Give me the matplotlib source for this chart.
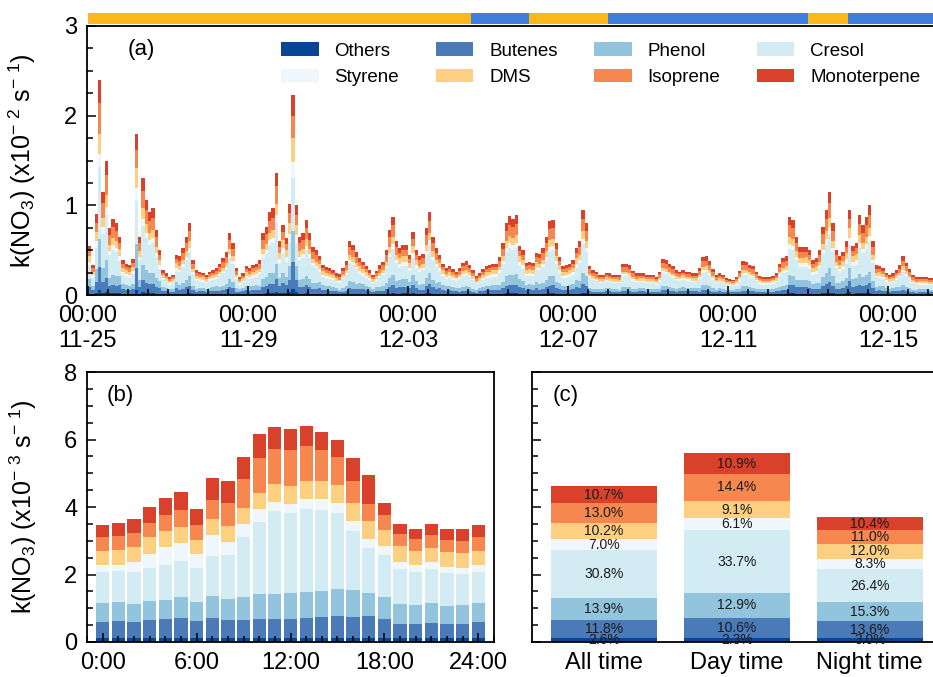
import numpy as np
import matplotlib
matplotlib.use('Agg')
import matplotlib.pyplot as plt
from matplotlib.patches import Patch
from matplotlib.ticker import MultipleLocator

plt.rcParams['font.family'] = ['Liberation Sans', 'DejaVu Sans']
plt.rcParams['mathtext.fontset'] = 'custom'
plt.rcParams['mathtext.rm'] = 'Liberation Sans'
plt.rcParams['mathtext.default'] = 'regular'

species = ['Others', 'Butenes', 'Phenol', 'Cresol', 'Styrene', 'DMS', 'Isoprene', 'Monoterpene']
colors = ['#084594', '#4a7ab7', '#92c4de', '#d3ecf3', '#eff6fc', '#fdd081', '#f6874f', '#d9412b']

# contribution (%) of each species, from panel (c)
all_share = [2.6, 11.8, 13.9, 30.8, 7.0, 10.2, 13.0, 10.7]
day_share = [2.3, 10.6, 12.9, 33.7, 6.1, 9.1, 14.4, 10.9]
night_share = [3.0, 13.6, 15.3, 26.4, 8.3, 12.0, 11.0, 10.4]
period_totals = [4.61, 5.59, 3.70]
period_names = ['All time', 'Day time', 'Night time']

# (a) total k(NO3), x10^-2 s^-1, 2-hourly from 11-25 00:00 (one row per day)
k_total = [
    0.55, 0.33, 0.90, 2.40, 1.15, 1.50, 0.75, 0.85, 0.80, 0.65, 0.39, 0.35,
    0.33, 0.40, 1.80, 0.65, 1.30, 1.06, 0.93, 0.97, 0.72, 0.50, 0.28, 0.24,
    0.20, 0.22, 0.45, 0.43, 0.52, 0.65, 0.80, 0.39, 0.28, 0.26, 0.25, 0.22,
    0.26, 0.28, 0.30, 0.35, 0.41, 0.48, 0.69, 0.58, 0.30, 0.20, 0.24, 0.32,
    0.30, 0.33, 0.35, 0.39, 0.69, 0.76, 0.93, 0.97, 1.36, 0.60, 0.78, 0.64,
    1.02, 2.23, 1.00, 0.65, 0.69, 0.84, 0.69, 0.54, 0.50, 0.44, 0.34, 0.31,
    0.30, 0.28, 0.24, 0.23, 0.30, 0.38, 0.60, 0.56, 0.48, 0.41, 0.37, 0.32,
    0.28, 0.22, 0.27, 0.33, 0.37, 0.50, 0.72, 0.87, 0.60, 0.52, 0.56, 0.56,
    0.45, 0.70, 0.50, 0.44, 0.46, 0.75, 0.93, 0.65, 0.52, 0.45, 0.35, 0.30,
    0.32, 0.29, 0.26, 0.30, 0.36, 0.38, 0.34, 0.28, 0.21, 0.24, 0.29, 0.32,
    0.33, 0.35, 0.35, 0.42, 0.58, 0.80, 0.88, 0.85, 0.89, 0.55, 0.50, 0.36,
    0.37, 0.36, 0.47, 0.46, 0.52, 0.65, 0.82, 0.84, 0.58, 0.42, 0.32, 0.33,
    0.35, 0.39, 0.52, 0.60, 0.95, 0.80, 0.32, 0.28, 0.26, 0.22, 0.22, 0.25,
    0.24, 0.22, 0.22, 0.22, 0.35, 0.35, 0.33, 0.27, 0.24, 0.24, 0.24, 0.22,
    0.22, 0.22, 0.20, 0.26, 0.40, 0.39, 0.35, 0.32, 0.28, 0.26, 0.28, 0.26,
    0.26, 0.24, 0.24, 0.30, 0.42, 0.43, 0.38, 0.29, 0.22, 0.24, 0.22, 0.19,
    0.18, 0.17, 0.20, 0.27, 0.38, 0.37, 0.34, 0.32, 0.26, 0.21, 0.20, 0.20,
    0.20, 0.21, 0.24, 0.35, 0.41, 0.43, 0.87, 0.84, 0.65, 0.53, 0.53, 0.54,
    0.50, 0.39, 0.41, 0.50, 0.76, 0.95, 1.15, 0.80, 0.50, 0.43, 0.48, 0.60,
    0.95, 0.55, 0.58, 0.89, 0.78, 0.87, 1.00, 0.60, 0.33, 0.32, 0.30, 0.25,
    0.22, 0.24, 0.28, 0.33, 0.43, 0.36, 0.29, 0.22, 0.20, 0.20, 0.20, 0.20,
    0.19, 0.19,
]
date_ticks = [0, 4, 8, 12, 16, 20]
date_labels = ['00:00\n11-25', '00:00\n11-29', '00:00\n12-03', '00:00\n12-07', '00:00\n12-11', '00:00\n12-15']

# air mass periods shown in the top strip (days since 11-25 00:00)
period_start = [0, 9.58, 11.03, 13.0, 18.0, 19.0]
period_end = [9.58, 11.03, 13.0, 18.0, 19.0, 21.3]
period_color = ['#fdb71a', '#3f80dc', '#fdb71a', '#3f80dc', '#fdb71a', '#3f80dc']

# (b) diurnal cycle, cumulative tops (x10^-3 s^-1), hour 0..24
hours = list(range(25))
top_others = [0.11, 0.11, 0.11, 0.11, 0.11, 0.11, 0.11, 0.11, 0.11, 0.11, 0.11, 0.11, 0.11,
              0.11, 0.11, 0.11, 0.11, 0.11, 0.11, 0.11, 0.11, 0.11, 0.11, 0.11, 0.11]
top_butenes = [0.59, 0.63, 0.59, 0.65, 0.68, 0.71, 0.62, 0.71, 0.65, 0.65, 0.68, 0.68, 0.68,
               0.71, 0.74, 0.77, 0.74, 0.77, 0.68, 0.53, 0.53, 0.56, 0.53, 0.53, 0.59]
top_phenol = [1.16, 1.19, 1.12, 1.21, 1.24, 1.33, 1.18, 1.36, 1.27, 1.33, 1.42, 1.42, 1.45,
              1.48, 1.51, 1.57, 1.54, 1.45, 1.33, 1.12, 1.09, 1.15, 1.07, 1.09, 1.16]
top_cresol = [2.08, 2.11, 2.08, 2.19, 2.28, 2.40, 2.19, 2.54, 2.57, 3.11, 3.55, 3.88, 3.82,
              3.93, 3.91, 3.82, 3.28, 2.78, 2.57, 2.16, 2.07, 2.16, 2.04, 2.01, 2.08]
top_styrene = [2.28, 2.28, 2.37, 2.60, 2.81, 2.93, 2.60, 3.17, 2.96, 3.49, 3.93, 4.14, 4.08,
               4.23, 4.23, 4.11, 3.58, 3.05, 2.84, 2.37, 2.28, 2.37, 2.22, 2.19, 2.28]
top_dms = [2.69, 2.72, 2.81, 3.10, 3.28, 3.40, 3.02, 3.64, 3.43, 3.96, 4.41, 4.67, 4.62,
           4.76, 4.76, 4.64, 4.11, 3.58, 3.31, 2.84, 2.69, 2.78, 2.66, 2.63, 2.69]
top_isoprene = [3.11, 3.14, 3.22, 3.52, 3.76, 3.91, 3.46, 4.20, 4.11, 4.82, 5.44, 5.71, 5.68,
                5.80, 5.68, 5.47, 4.76, 4.08, 3.76, 3.20, 3.05, 3.17, 3.02, 2.99, 3.11]
top_mono = [3.46, 3.52, 3.64, 3.99, 4.26, 4.44, 3.93, 4.85, 4.76, 5.47, 6.15, 6.36, 6.30,
            6.39, 6.21, 5.98, 5.44, 4.94, 4.11, 3.49, 3.34, 3.49, 3.34, 3.34, 3.46]

W, H = 933, 677
fig = plt.figure(figsize=(W / 100, H / 100), dpi=100)


def box(l, t, r, b):
    return [l / W, 1 - b / H, (r - l) / W, (b - t) / H]


ax_top = fig.add_axes(box(87, 13, 938, 24))
ax_a = fig.add_axes(box(87, 26, 938, 295))
ax_b = fig.add_axes(box(87, 372, 494, 642))
ax_c = fig.add_axes(box(532, 372, 938, 642), sharey=ax_b)

tick_fs = 17
lab_fs = 18


def style(ax):
    for s in ax.spines.values():
        s.set_linewidth(1.3)
    ax.tick_params(which='both', direction='in', top=False, right=False, labelsize=tick_fs)
    ax.tick_params(which='major', length=6.5, width=1.1, pad=7)
    ax.tick_params(which='minor', length=4, width=1.1)


# ---- top strip
for s, e, c in zip(period_start, period_end, period_color):
    ax_top.barh(0, e - s, left=s, height=1, color=c, linewidth=0)
ax_top.set_xlim(-0.025, 21.25)
ax_top.set_ylim(-0.5, 0.5)
ax_top.axis('off')

# ---- (a) time series
n = len(k_total)
t = np.arange(n) * 2 / 24
hod = (np.arange(n) * 2) % 24
is_day = (hod >= 6) & (hod <= 16)
share = np.where(is_day[:, None], np.array(day_share) / 100, np.array(night_share) / 100)
parts = np.array(k_total)[:, None] * share
bottom = np.zeros(n)
for i, name in enumerate(species):
    ax_a.bar(t, parts[:, i], width=2 / 24, bottom=bottom, align='edge',
             color=colors[i], linewidth=0)
    bottom += parts[:, i]

style(ax_a)
ax_a.set_xlim(-0.025, 21.25)
ax_a.set_ylim(0, 3)
ax_a.set_yticks([0, 1, 2, 3])
ax_a.yaxis.set_minor_locator(MultipleLocator(0.25))
ax_a.set_xticks(date_ticks)
ax_a.set_xticklabels(date_labels)
ax_a.xaxis.set_minor_locator(MultipleLocator(0.5))
ax_a.set_ylabel(r'k(NO$_3$) (x10$^{-\ 2}$ s$^{-\ 1}$)', fontsize=lab_fs)
ax_a.yaxis.set_label_coords(-0.057, 0.5)
ax_a.text(0.048, 0.914, '(a)', transform=ax_a.transAxes, fontsize=16, va='center')

handles = [Patch(facecolor=c, label=s) for s, c in zip(species, colors)]
order = [0, 4, 1, 5, 2, 6, 3, 7]
ax_a.legend([handles[i] for i in order], [species[i] for i in order], ncol=4,
            loc='upper left', bbox_to_anchor=(0.228, 0.94), frameon=False,
            fontsize=13.5, handlelength=2.0, handleheight=0.75, handletextpad=0.85,
            columnspacing=1.95, labelspacing=0.48, borderpad=0, borderaxespad=0)

# ---- (b) diurnal
tops = np.array([top_others, top_butenes, top_phenol, top_cresol, top_styrene,
                 top_dms, top_isoprene, top_mono])
lows = np.vstack([np.zeros(len(hours)), tops[:-1]])
for i in range(len(species)):
    ax_b.bar(hours, tops[i] - lows[i], bottom=lows[i], width=0.85,
             color=colors[i], linewidth=0, zorder=1)

style(ax_b)
ax_b.set_xlim(-1, 25)
ax_b.set_ylim(0, 8)
ax_b.set_yticks([0, 2, 4, 6, 8])
ax_b.yaxis.set_minor_locator(MultipleLocator(0.5))
ax_b.set_xticks([0, 6, 12, 18, 24])
ax_b.set_xticklabels(['0:00', '6:00', '12:00', '18:00', '24:00'])
ax_b.xaxis.set_minor_locator(MultipleLocator(1))
ax_b.set_ylabel(r'k(NO$_3$) (x10$^{-\ 3}$ s$^{-\ 1}$)', fontsize=lab_fs)
ax_b.yaxis.set_label_coords(-0.118, 0.5)
ax_b.text(0.049, 0.914, '(b)', transform=ax_b.transAxes, fontsize=16, va='center')

# ---- (c) contributions
shares = [all_share, day_share, night_share]
for j, tot in enumerate(period_totals):
    base = 0
    for i in range(len(species)):
        h = tot * shares[j][i] / 100
        ax_c.bar(j, h, bottom=base, width=0.8, color=colors[i], linewidth=0)
        ax_c.text(j, base + h / 2, f'{shares[j][i]:.1f}%', ha='center', va='center',
                  fontsize=10, color='#1a1a1a')
        base += h

style(ax_c)
ax_c.set_xlim(-0.54, 2.513)
ax_c.set_xticks([0, 1, 2])
ax_c.set_xticklabels(period_names)
ax_c.tick_params(axis='x', which='both', length=0)
ax_c.tick_params(axis='y', labelleft=False)
ax_c.text(0.052, 0.914, '(c)', transform=ax_c.transAxes, fontsize=16, va='center')

fig.savefig('out.png', dpi=100)
